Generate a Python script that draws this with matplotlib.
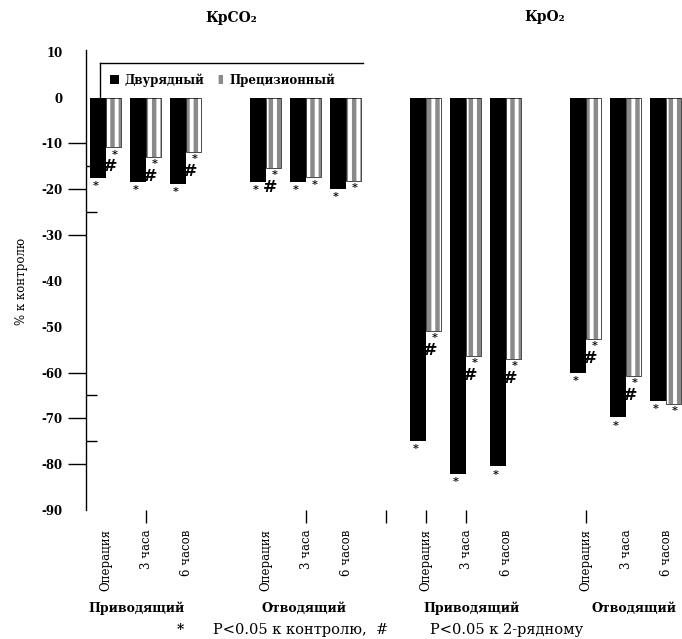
import matplotlib
matplotlib.use('Agg')
import matplotlib.pyplot as plt
from matplotlib.patches import Patch
from matplotlib.lines import Line2D
import numpy as np

# ---------------- data ----------------
params = ['КрСО₂', 'КрО₂']
vessels = ['Приводящий', 'Отводящий', 'Приводящий', 'Отводящий']
times = ['Операция', '3 часа', '6 часов']
series_names = ['Двурядный', 'Прецизионный']

dual = [-17.6, -18.5, -18.8, -18.5, -18.5, -19.9,
        -74.9, -82.2, -80.5, -60.0, -69.8, -66.2]
prec = [-10.8, -12.9, -11.8, -15.3, -17.4, -18.1,
        -50.9, -56.3, -57.0, -52.6, -60.7, -66.8]
sig_ctrl_dual = [True] * 12
sig_ctrl_prec = [True] * 12
sig_vs_dual = [True, True, True, True, False, False,
               True, True, True, True, True, False]

yticks = [10, 0, -10, -20, -30, -40, -50, -60, -70, -80, -90]
ytick_lines = [-10, -20, -30, -60, -70, -80]
yminor = [-15, -25, -65, -75]
xtick_line_idx = [1, 4, 6, 7, 9]
footnote = ['*', 'P<0.05 к контролю,  #', 'P<0.05 к 2-рядному']

# ---------------- style ----------------
plt.rcParams['font.family'] = ['DejaVu Serif']
plt.rcParams['hatch.linewidth'] = 3.2
HATCH_COL = '#8a8a8a'

W, H = 682, 639
fig = plt.figure(figsize=(W / 100, H / 100), dpi=100)
fig.patch.set_facecolor('white')

def fx(px):
    return px / W

def fy(py):
    return 1 - py / H

ax = fig.add_axes([fx(86), fy(510), 1 - fx(86), fy(50) - fy(510)])

n_groups = len(vessels)
n_t = len(times)
k = np.arange(n_groups * n_t)
left = 4 * (k // n_t) + (k % n_t)
bw1, bw2 = 0.40, 0.38

ax.bar(left, dual, width=bw1, align='edge', color='black', linewidth=0, zorder=2)
ax.bar(left + bw1, prec, width=bw2, align='edge', facecolor='white',
       edgecolor=HATCH_COL, hatch='||', linewidth=0, zorder=2)
ax.bar(left + bw1, prec, width=bw2, align='edge', fill=False,
       edgecolor='black', linewidth=0.5, zorder=3)

# significance marks
for j in range(len(k)):
    if sig_ctrl_dual[j]:
        ax.annotate('*', xy=(left[j] + 0.15, dual[j]), xytext=(0, -1.5),
                    textcoords='offset points', ha='center', va='top',
                    fontsize=8, fontweight='bold')
    if sig_ctrl_prec[j]:
        ax.annotate('*', xy=(left[j] + bw1 + 0.22, prec[j]), xytext=(0, -1),
                    textcoords='offset points', ha='center', va='top',
                    fontsize=8, fontweight='bold')
    if sig_vs_dual[j]:
        ax.annotate('#', xy=(left[j] + bw1 + 0.1, prec[j]), xytext=(0, -8),
                    textcoords='offset points', ha='center', va='top',
                    fontsize=12.5, fontweight='bold')

ax.set_xlim(-0.1, 14.8)
ax.set_ylim(-90, 10.4)

# y axis
ax.set_yticks(yticks)
ax.set_yticklabels([str(v) for v in yticks], fontsize=8.5, fontweight='bold')
ax.tick_params(axis='y', which='major', direction='out', length=13, width=1, pad=4)
for t, v in zip(ax.yaxis.get_major_ticks(), yticks):
    t.tick1line.set_visible(v in ytick_lines)
ax.set_yticks(yminor, minor=True)
ax.tick_params(axis='y', which='minor', direction='in', length=8, width=1)

# x axis
centers = left + bw1
ax.set_xticks(centers)
ax.set_xticklabels(times * n_groups, rotation=90, fontsize=8.5)
ax.tick_params(axis='x', which='major', direction='out', length=9, width=1, pad=5)
for idx, t in enumerate(ax.xaxis.get_major_ticks()):
    t.tick1line.set_visible(idx in xtick_line_idx)
mid_gap = ((left[5] + bw1 + bw2) + left[6]) / 2
ax.set_xticks([mid_gap], minor=True)
ax.tick_params(axis='x', which='minor', direction='out', length=9, width=1)

for s in ['top', 'right', 'bottom']:
    ax.spines[s].set_visible(False)
ax.spines['left'].set_linewidth(1)

# titles
fig.text(fx(231), fy(18), params[0], ha='center', va='center', fontsize=10, fontweight='bold')
fig.text(fx(545), fy(17), params[1], ha='center', va='center', fontsize=10, fontweight='bold')

# group labels
for name, px in zip(vessels, [137, 304, 472, 634]):
    fig.text(fx(px), fy(608), name, ha='center', va='center', fontsize=9, fontweight='bold')

# y label
fig.text(fx(22), fy(281), '% к контролю', rotation=90, ha='center', va='center', fontsize=8.5)

# legend
handles = [Patch(facecolor='black', linewidth=0),
           Patch(facecolor='white', edgecolor=HATCH_COL, hatch='||', linewidth=0)]
ax.legend(handles, series_names, ncol=2, frameon=False, loc='center left',
          bbox_to_anchor=(fx(110), fy(80)), bbox_transform=fig.transFigure,
          handlelength=0.8, handleheight=0.8, handletextpad=0.4,
          columnspacing=1.0, borderaxespad=0, borderpad=0,
          prop=dict(family='DejaVu Serif', weight='bold', size=8.5))
fig.add_artist(Line2D([fx(100), fx(363)], [fy(63), fy(63)], color='black', lw=1))
fig.add_artist(Line2D([fx(100), fx(100)], [fy(63), fy(97)], color='black', lw=1))

# footnote
fig.text(fx(180), fy(630), footnote[0], ha='center', va='center', fontsize=10, fontweight='bold')
fig.text(fx(213), fy(630), footnote[1], ha='left', va='center', fontsize=10.5)
fig.text(fx(430), fy(630), footnote[2], ha='left', va='center', fontsize=10.5)

fig.savefig('out.png', dpi=100, facecolor='white')
